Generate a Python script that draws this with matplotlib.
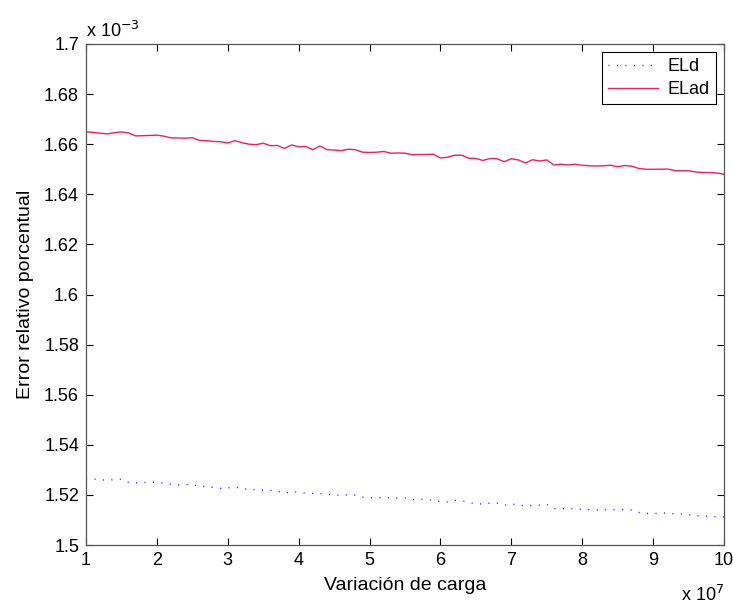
import matplotlib
matplotlib.use("Agg")
import matplotlib.pyplot as plt
import numpy as np

# x in units of 1e7, y in units of 1e-3
x_vals = [1.0, 1.1, 1.2, 1.3, 1.4, 1.5, 1.6, 1.7, 1.8, 1.9,
          2.0, 2.1, 2.2, 2.3, 2.4, 2.5, 2.6, 2.7, 2.8, 2.9,
          3.0, 3.1, 3.2, 3.3, 3.4, 3.5, 3.6, 3.7, 3.8, 3.9,
          4.0, 4.1, 4.2, 4.3, 4.4, 4.5, 4.6, 4.7, 4.8, 4.9,
          5.0, 5.1, 5.2, 5.3, 5.4, 5.5, 5.6, 5.7, 5.8, 5.9,
          6.0, 6.1, 6.2, 6.3, 6.4, 6.5, 6.6, 6.7, 6.8, 6.9,
          7.0, 7.1, 7.2, 7.3, 7.4, 7.5, 7.6, 7.7, 7.8, 7.9,
          8.0, 8.1, 8.2, 8.3, 8.4, 8.5, 8.6, 8.7, 8.8, 8.9,
          9.0, 9.1, 9.2, 9.3, 9.4, 9.5, 9.6, 9.7, 9.8, 9.9, 10.0]

eld = [1.5264, 1.5264, 1.5260, 1.5259, 1.5261, 1.5263, 1.5250, 1.5248, 1.5250, 1.5249,
       1.5251, 1.5246, 1.5242, 1.5240, 1.5241, 1.5242, 1.5233, 1.5234, 1.5230, 1.5226,
       1.5228, 1.5232, 1.5225, 1.5222, 1.5221, 1.5219, 1.5218, 1.5215, 1.5206, 1.5214,
       1.5210, 1.5206, 1.5206, 1.5205, 1.5202, 1.5200, 1.5198, 1.5201, 1.5199, 1.5191,
       1.5189, 1.5189, 1.5190, 1.5188, 1.5187, 1.5188, 1.5181, 1.5182, 1.5184, 1.5178,
       1.5173, 1.5172, 1.5178, 1.5177, 1.5170, 1.5164, 1.5164, 1.5167, 1.5167, 1.5159,
       1.5164, 1.5159, 1.5156, 1.5158, 1.5159, 1.5162, 1.5145, 1.5145, 1.5145, 1.5145,
       1.5142, 1.5141, 1.5140, 1.5141, 1.5140, 1.5141, 1.5142, 1.5140, 1.5130, 1.5126,
       1.5126, 1.5126, 1.5129, 1.5124, 1.5124, 1.5121, 1.5118, 1.5115, 1.5115, 1.5113, 1.5112]

elad = [1.6650, 1.6647, 1.6644, 1.6641, 1.6646, 1.6649, 1.6645, 1.6633, 1.6634, 1.6635,
        1.6636, 1.6632, 1.6625, 1.6625, 1.6624, 1.6626, 1.6615, 1.6614, 1.6611, 1.6610,
        1.6605, 1.6614, 1.6606, 1.6600, 1.6598, 1.6604, 1.6594, 1.6595, 1.6583, 1.6597,
        1.6590, 1.6591, 1.6578, 1.6593, 1.6578, 1.6577, 1.6574, 1.6580, 1.6578, 1.6568,
        1.6567, 1.6568, 1.6571, 1.6564, 1.6565, 1.6564, 1.6558, 1.6559, 1.6559, 1.6560,
        1.6545, 1.6548, 1.6556, 1.6556, 1.6544, 1.6543, 1.6535, 1.6543, 1.6542, 1.6530,
        1.6542, 1.6537, 1.6525, 1.6538, 1.6533, 1.6537, 1.6517, 1.6520, 1.6517, 1.6520,
        1.6516, 1.6514, 1.6513, 1.6514, 1.6516, 1.6510, 1.6515, 1.6512, 1.6503, 1.6500,
        1.6500, 1.6500, 1.6501, 1.6495, 1.6494, 1.6494, 1.6489, 1.6487, 1.6487, 1.6485, 1.6480]

x_ticks = [1, 2, 3, 4, 5, 6, 7, 8, 9, 10]
x_ticklabels = ["1", "2", "3", "4", "5", "6", "7", "8", "9", "10"]
y_ticks = [1.5, 1.52, 1.54, 1.56, 1.58, 1.6, 1.62, 1.64, 1.66, 1.68, 1.7]
y_ticklabels = ["1.5", "1.52", "1.54", "1.56", "1.58", "1.6", "1.62", "1.64", "1.66", "1.68", "1.7"]

plt.rcParams['font.family'] = ['Liberation Sans', 'DejaVu Sans']
FS = 13
LFS = 14

fig = plt.figure(figsize=(7.33, 6.05), dpi=100)
ax = fig.add_axes([86/733, 60/605, 638/733, 501/605])

ax.plot(x_vals, eld, linestyle=(0, (0.8, 5.3)), color='#2a2aff', linewidth=1.0, label='ELd')
ax.plot(x_vals, elad, linestyle='-', color='#f0205a', linewidth=1.0, label='ELad')

ax.set_xlim(1, 10)
ax.set_ylim(1.5, 1.7)
ax.set_xticks(x_ticks)
ax.set_xticklabels(x_ticklabels, fontsize=FS)
ax.set_yticks(y_ticks)
ax.set_yticklabels(y_ticklabels, fontsize=FS)
ax.tick_params(direction='in', top=True, right=True, length=5, width=0.8, pad=5)
for s in ax.spines.values():
    s.set_linewidth(0.9)
    s.set_color('#555555')

ax.set_xlabel('Variación de carga', fontsize=LFS, labelpad=6)
ax.set_ylabel('Error relativo porcentual', fontsize=LFS, labelpad=7)

ax.text(0.0, 1.006, r'x 10$^{-3}$', transform=ax.transAxes, fontsize=FS,
        ha='left', va='bottom')
ax.text(1.0, -0.08, r'x 10$^{7}$', transform=ax.transAxes, fontsize=FS,
        ha='right', va='top')

leg = ax.legend(loc='upper right', fontsize=FS, fancybox=False, framealpha=1,
                edgecolor='black', borderaxespad=0.45, handlelength=2.8,
                labelspacing=0.3, borderpad=0.35, handletextpad=0.5)
leg.get_frame().set_linewidth(0.8)

fig.savefig('out.png', dpi=100, facecolor='white')
